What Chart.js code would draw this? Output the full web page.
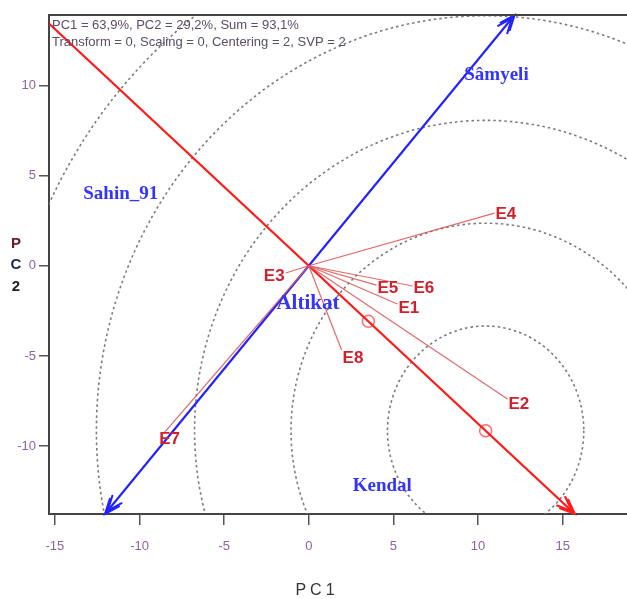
<!DOCTYPE html>
<html>
<head>
<meta charset="utf-8">
<script src="https://cdn.jsdelivr.net/npm/chart.js@4/dist/chart.umd.min.js"></script>
<style>
  html, body { margin: 0; padding: 0; background: #fff; }
  #wrap { width: 627px; height: 599px; }
</style>
</head>
<body>
<div id="wrap"><canvas id="biplot" width="627" height="599"></canvas></div>
<script>
// Environment vectors (PC1, PC2 scores)
const envNames = ['E1', 'E2', 'E3', 'E4', 'E5', 'E6', 'E7', 'E8'];
const envX = [5.24, 11.74, -1.37, 10.97, 4.00, 6.13, -8.51, 1.94];
const envY = [-2.12, -7.39, -0.40, 2.92, -1.07, -1.12, -9.22, -4.67];

// Genotype scores
const genNames = ['Sâmyeli', 'Sahin_91', 'Altikat', 'Kendal'];
const genX = [11.09, -11.11, -0.05, 4.34];
const genY = [10.57, 3.96, -2.08, -12.21];

// Average environment and ideal environment on the AEC abscissa
const avgEnv = [3.52, -3.08];
const idealEnv = [10.45, -9.14];

// Concentric rings around the ideal environment
const ringRadii = [5.8, 11.5, 17.2, 23.0, 28.7];

// Axis ticks and range
const xTicks = [-15, -10, -5, 0, 5, 10, 15];
const yTicks = [-10, -5, 0, 5, 10];
const xRange = [-15.35, 18.36];
const yRange = [-13.76, 13.9];

const infoLines = [
  'PC1 = 63,9%, PC2 = 29,2%, Sum = 93,1%',
  'Transform = 0, Scaling = 0, Centering = 2, SVP = 2'
];

// Line through the origin along (dx, dy), clipped to the plotting window
function clipThroughOrigin(dx, dy) {
  const ends = [];
  for (const s of [1, -1]) {
    const ux = dx * s, uy = dy * s;
    const tx = ux > 0 ? xRange[1] / ux : xRange[0] / ux;
    const ty = uy > 0 ? yRange[1] / uy : yRange[0] / uy;
    const t = Math.min(tx, ty);
    ends.push({ x: ux * t, y: uy * t });
  }
  return ends; // [positive end, negative end]
}

const aecAbs = clipThroughOrigin(avgEnv[0], avgEnv[1]);
const aecOrd = clipThroughOrigin(-avgEnv[1], avgEnv[0]);

const datasets = [];
envNames.forEach((n, i) => {
  datasets.push({
    label: n,
    data: [{ x: 0, y: 0 }, { x: envX[i], y: envY[i] }],
    showLine: true,
    borderColor: 'rgba(222,90,90,0.9)',
    borderWidth: 1.2,
    pointRadius: 0
  });
});
datasets.push({
  label: 'AEC abscissa',
  data: [aecAbs[1], aecAbs[0]],
  showLine: true, borderColor: '#ff1a1a', borderWidth: 2.2, pointRadius: 0
});
datasets.push({
  label: 'AEC ordinate',
  data: [aecOrd[1], aecOrd[0]],
  showLine: true, borderColor: '#2222ff', borderWidth: 2.2, pointRadius: 0
});
datasets.push({
  label: 'markers',
  data: [{ x: avgEnv[0], y: avgEnv[1] }, { x: idealEnv[0], y: idealEnv[1] }],
  showLine: false, pointRadius: 6, pointStyle: 'circle',
  borderColor: '#ff6c6c', borderWidth: 1.5, backgroundColor: 'rgba(0,0,0,0)'
});

function arrowHead(ctx, from, to, color) {
  const a = Math.atan2(to.y - from.y, to.x - from.x);
  ctx.save();
  ctx.strokeStyle = color;
  ctx.lineWidth = 2;
  ctx.lineCap = 'round';
  for (const back of [0, 4]) {
    const bx = to.x - back * Math.cos(a), by = to.y - back * Math.sin(a);
    ctx.beginPath();
    ctx.moveTo(bx - 16 * Math.cos(a - 0.38), by - 16 * Math.sin(a - 0.38));
    ctx.lineTo(bx, by);
    ctx.lineTo(bx - 16 * Math.cos(a + 0.38), by - 16 * Math.sin(a + 0.38));
    ctx.stroke();
  }
  ctx.restore();
}

const ringsPlugin = {
  id: 'rings',
  beforeDatasetsDraw(chart) {
    const { ctx, chartArea: ca, scales: { x, y } } = chart;
    ctx.save();
    ctx.beginPath();
    ctx.rect(ca.left, ca.top, chart.width - ca.left, ca.bottom - ca.top);
    ctx.clip();
    ctx.strokeStyle = '#7a7a7a';
    ctx.lineWidth = 1.6;
    ctx.setLineDash([2.5, 3]);
    const cx = x.getPixelForValue(idealEnv[0]);
    const cy = y.getPixelForValue(idealEnv[1]);
    ringRadii.forEach(r => {
      const rx = Math.abs(x.getPixelForValue(idealEnv[0] + r) - cx);
      const ry = Math.abs(y.getPixelForValue(idealEnv[1] + r) - cy);
      ctx.beginPath();
      ctx.ellipse(cx, cy, rx, ry, 0, 0, Math.PI * 2);
      ctx.stroke();
    });
    ctx.restore();
  }
};

const labelsPlugin = {
  id: 'labels',
  afterDatasetsDraw(chart) {
    const { ctx, chartArea: ca, scales: { x, y } } = chart;
    const ox = x.getPixelForValue(0), oy = y.getPixelForValue(0);

    // arrowheads on the AEC axes
    const px = p => ({ x: x.getPixelForValue(p.x), y: y.getPixelForValue(p.y) });
    const o = { x: ox, y: oy };
    arrowHead(ctx, o, px(aecAbs[0]), '#ff1a1a');
    arrowHead(ctx, o, px(aecOrd[0]), '#2222ff');
    arrowHead(ctx, o, px(aecOrd[1]), '#2222ff');

    // environment labels attached to the vector ends
    ctx.save();
    ctx.font = 'bold 17px "Liberation Sans", Arial, sans-serif';
    ctx.fillStyle = '#d0202c';
    ctx.textAlign = 'left';
    ctx.textBaseline = 'middle';
    envNames.forEach((n, i) => {
      const ex = x.getPixelForValue(envX[i]), ey = y.getPixelForValue(envY[i]);
      const dx = ex - ox, dy = ey - oy, len = Math.hypot(dx, dy);
      const ux = dx / len, uy = dy / len;
      const w = ctx.measureText(n).width;
      const left = ux < -0.8 ? ex - w - 1 : ex + 1 + Math.min(0, ux) * 10;
      const cy = ey + 8 * Math.max(uy, 0) + 1;
      ctx.fillText(n, left, cy);
    });
    ctx.restore();

    // genotype labels
    ctx.save();
    ctx.fillStyle = '#3434ff';
    ctx.textAlign = 'center';
    ctx.textBaseline = 'middle';
    genNames.forEach((n, i) => {
      const size = n === 'Altikat' ? 21 : 19;
      ctx.font = 'bold ' + size + 'px "Liberation Serif", "Times New Roman", serif';
      ctx.fillText(n, x.getPixelForValue(genX[i]), y.getPixelForValue(genY[i]));
    });
    ctx.restore();

    // frame: top line and bottom axis carried to the right edge
    ctx.save();
    ctx.strokeStyle = '#444';
    ctx.lineWidth = 2;
    ctx.beginPath();
    ctx.moveTo(ca.left - 1, ca.top);
    ctx.lineTo(chart.width, ca.top);
    ctx.moveTo(ca.right - 1, ca.bottom);
    ctx.lineTo(chart.width, ca.bottom);
    ctx.stroke();
    ctx.restore();

    // summary text
    ctx.save();
    ctx.font = '13px "Liberation Sans", Arial, sans-serif';
    ctx.fillStyle = '#5c4c66';
    ctx.textAlign = 'left';
    ctx.textBaseline = 'middle';
    infoLines.forEach((t, i) => ctx.fillText(t, ca.left + 3, ca.top + 10 + i * 17));
    ctx.restore();

    // axis titles
    ctx.save();
    ctx.font = '16px "Liberation Sans", Arial, sans-serif';
    ctx.fillStyle = '#333';
    ctx.textAlign = 'center';
    ctx.textBaseline = 'middle';
    ctx.letterSpacing = '4px';
    ctx.fillText('PC1', 317, 591);
    ctx.letterSpacing = '0px';
    ctx.font = 'bold 15px "Liberation Sans", Arial, sans-serif';
    const letters = ['P', 'C', '2'];
    const cols = ['#6a1a2a', '#1c2444', '#222'];
    letters.forEach((c, i) => {
      ctx.fillStyle = cols[i];
      ctx.fillText(c, 16, y.getPixelForValue(0) - 22 + i * 21.5);
    });
    ctx.restore();
  }
};

new Chart(document.getElementById('biplot'), {
  type: 'scatter',
  data: { datasets },
  options: {
    responsive: false,
    animation: false,
    layout: { padding: { top: 15, right: 0, bottom: 0, left: 0 } },
    plugins: { legend: { display: false }, tooltip: { enabled: false } },
    scales: {
      x: {
        type: 'linear',
        min: xRange[0], max: xRange[1],
        afterBuildTicks: s => { s.ticks = xTicks.map(v => ({ value: v })); },
        afterFit: s => { s.height = 85; },
        grid: { drawOnChartArea: false, drawTicks: true, tickLength: 11, color: '#555', lineWidth: 1.5 },
        border: { display: true, color: '#444', width: 2 },
        ticks: {
          padding: 14,
          color: '#8a64a0',
          font: { size: 13, family: '"Liberation Sans", Arial, sans-serif' },
          maxRotation: 0
        }
      },
      y: {
        type: 'linear',
        min: yRange[0], max: yRange[1],
        afterBuildTicks: s => { s.ticks = yTicks.map(v => ({ value: v })); },
        afterFit: s => { s.width = 49; },
        grid: { drawOnChartArea: false, drawTicks: true, tickLength: 10, color: '#555', lineWidth: 1.5 },
        border: { display: true, color: '#444', width: 2 },
        ticks: {
          padding: 3,
          color: '#8a64a0',
          font: { size: 13, family: '"Liberation Sans", Arial, sans-serif' }
        }
      }
    }
  },
  plugins: [ringsPlugin, labelsPlugin]
});
</script>
</body>
</html>
